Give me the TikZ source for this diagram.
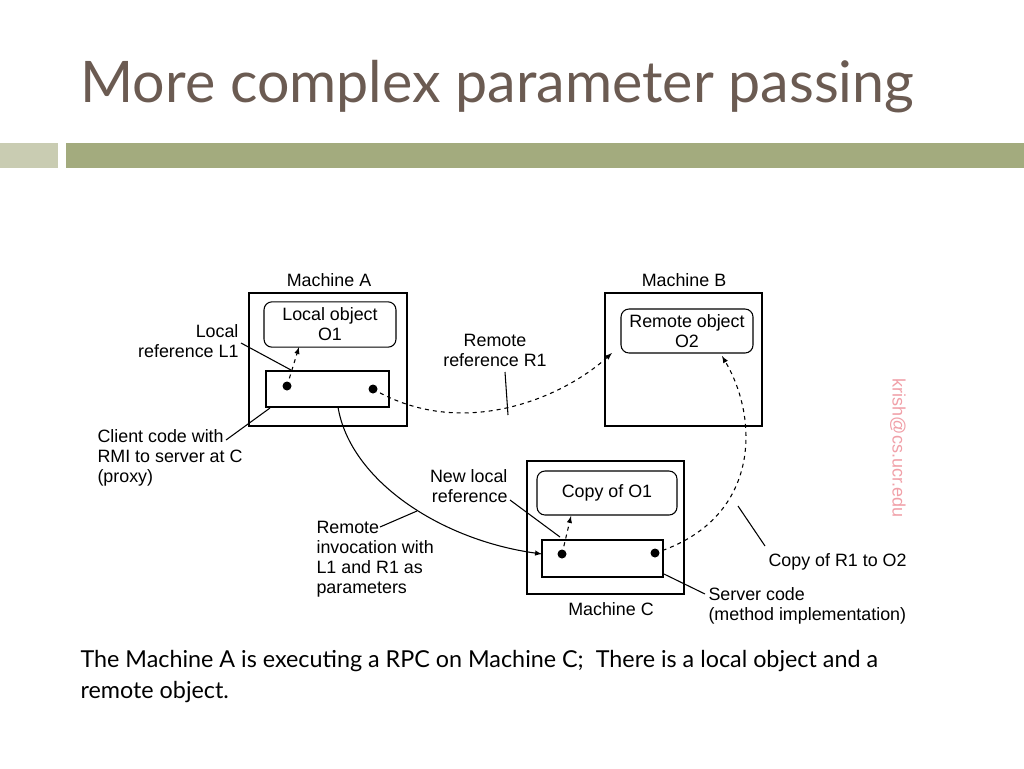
\documentclass[tikz,border=0pt]{standalone}
\usepackage{fontspec}
\setmainfont{Liberation Sans}
\newfontfamily\slidefont{Lato}
\usetikzlibrary{positioning}
\definecolor{titlegray}{HTML}{6B5B52}
\definecolor{barlight}{HTML}{C9CCB2}
\definecolor{bardark}{HTML}{A3AB7E}
\definecolor{markpink}{HTML}{F0A0A8}

\begin{document}
\begin{tikzpicture}[x=0.75pt,y=-0.75pt,thick,
    lbl/.style={font=\fontsize{13.4}{15}\selectfont,inner sep=0pt,align=left},
    machine/.style={draw,line width=1.5pt},
    objbox/.style={draw,rounded corners=6pt,line width=0.8pt},
    codebox/.style={draw,line width=0.8pt},
    leader/.style={line width=0.8pt},
    refline/.style={line width=0.8pt,dashed,-latex},
    callline/.style={line width=0.8pt,-latex}]
  \useasboundingbox (0,0) rectangle (1024,768);
  % title and bars
  \node[anchor=base west,inner sep=0pt,text=titlegray,font=\slidefont\fontsize{43}{48}\selectfont] (title) at (80,102) {More complex parameter passing};
  \fill[barlight] (0,143) rectangle (58,168);
  \fill[bardark] (66,143) rectangle (1024,168);
  % machines
  \draw[machine] (249,293) rectangle (407,426);
  \draw[machine] (605,293) rectangle (762,426);
  \draw[machine] (527,461) rectangle (684,594);
  \node[lbl] (ma) at (329,280) {Machine A};
  \node[lbl] (mb) at (684,280) {Machine B};
  \node[lbl] (mc) at (611,609) {Machine C};
  % objects
  \node[objbox,minimum width=99pt,minimum height=34pt,align=center,font=\fontsize{13.4}{15}\selectfont,inner sep=1pt] (o1) at (330,324.5) {Local object\\O1};
  \node[objbox,minimum width=99pt,minimum height=33pt,align=center,font=\fontsize{13.4}{15}\selectfont,inner sep=1pt] (o2) at (687,331) {Remote object\\O2};
  \node[objbox,minimum width=105pt,minimum height=33pt,font=\fontsize{13.4}{15}\selectfont] (o1c) at (607,493) {Copy of O1};
  \draw[codebox] (266,371) rectangle (389,407);
  \draw[codebox] (542,540) rectangle (663,577);
  % dots
  \fill (287,386) circle (4.5) coordinate (l1);
  \fill (373,389) circle (4.5) coordinate (r1);
  \fill (562,554) circle (4.5) coordinate (l1c);
  \fill (655,553) circle (4.5) coordinate (r1c);
  \coordinate (proxy) at (338,407);
  \coordinate (server) at (542,554);
  % references
  \draw[refline] (l1) -- (299,347);
  \draw[refline] (l1c) -- (571,516);
  \draw[refline] (r1) .. controls (460,440) and (560,400) .. (612,353);
  \draw[refline] (r1c) .. controls (760,520) and (760,420) .. (722,356);
  \draw[callline] (proxy) .. controls (350,480) and (440,540) .. (server);
  % labels
  \node[lbl,align=right,anchor=east] (locref) at (239,341) {Local\\reference L1};
  \node[lbl,align=center] (remref) at (495,350) {Remote\\reference R1};
  \node[lbl,anchor=north west] (client) at (97,429) {Client code with\\RMI to server at C\\(proxy)};
  \node[lbl,align=right,anchor=east] (newref) at (508,486) {New local\\reference};
  \node[lbl,anchor=north west] (remote) at (316,521) {Remote\\invocation with\\L1 and R1 as\\parameters};
  \node[lbl,anchor=west] (copyr) at (768,562) {Copy of R1 to O2};
  \node[lbl,anchor=north west] (servcode) at (708,587) {Server code\\(method implementation)};
  % leaders
  \draw[leader] (241,343) -- (291,370);
  \draw[leader] (505,372) -- (508,415);
  \draw[leader] (226,440) -- (270,408);
  \draw[leader] (510,500) -- (560,537);
  \draw[leader] (380,527) -- (417,511);
  \draw[leader] (765,546) -- (738,506);
  \draw[leader] (705,594) -- (664,574);
  % watermark
  \node[rotate=-90,text=markpink,font=\fontsize{13.5}{15}\selectfont,inner sep=0pt] (mark) at (898,448) {krish@cs.ucr.edu};
  % caption
  \node[anchor=north west,inner sep=0pt,align=left,font=\slidefont\fontsize{17.5}{23}\selectfont] (caption) at (80,650) {The Machine A is executing a RPC on Machine C;\ \ There is a local object and a\\remote object.};
\end{tikzpicture}
\end{document}
